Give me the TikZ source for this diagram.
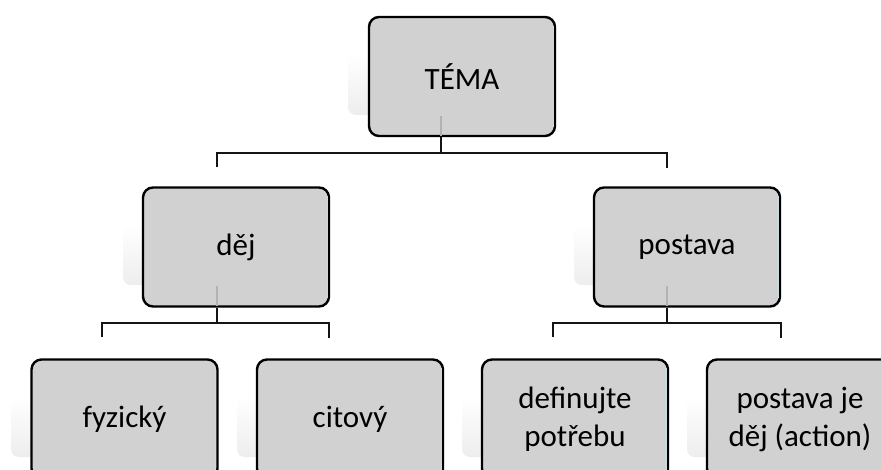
\documentclass[tikz,border=0pt]{standalone}
\usepackage{fontspec}
\setmainfont{Carlito}
\definecolor{boxgray}{RGB}{209,209,209}
\definecolor{glint}{RGB}{200,218,226}
\begin{document}
\begin{tikzpicture}[x=1pt,y=-1pt,
  orgbox/.style={draw=black, line width=2.4pt, rounded corners=10pt, fill=boxgray,
    minimum width=186pt, minimum height=119pt, inner sep=0pt, align=center,
    font=\fontsize{31}{38}\selectfont, text=black},
  conn/.style={line width=2.6pt, draw=black!92},
  hidden/.style={line width=2.4pt, draw=black!30},
  ghost/.style={rounded corners=8pt, top color=white, bottom color=black!7, draw=none}]
\useasboundingbox (0,0) rectangle (881,470);
\clip (0,0) rectangle (881,470);
\fill[white] (0,0) rectangle (881,470);
% faint reflections on the left
\foreach \l/\t/\b in {368/16/137, 143/187/307, 594/187/307, 31/359/479, 257/359/479, 482/359/479, 707/359/479}{
  \path[ghost] (\l-20,\t+38) rectangle (\l+20,\b-22);
}
% boxes
\node[orgbox] (tema) at (462,76.5) {TÉMA};
\node[orgbox] (dej) at (236,247) {děj};
\node[orgbox] (postava) at (687,247) {postava};
\node[orgbox] (fyz) at (124.5,419) {fyzický};
\node[orgbox] (cit) at (350,419) {citový};
\node[orgbox] (def) at (575,419) {definujte\\potřebu};
\node[orgbox] (pje) at (800,419) {postava je\\děj (action)};
% glass highlight on the right edges
\foreach \n in {tema,dej,postava,fyz,cit,def,pje}{
  \draw[glint, line width=1pt] ([xshift=-3pt,yshift=-10pt]\n.north east) -- ([xshift=-3pt,yshift=10pt]\n.south east);
}
% connector anchor points (off-centre, as drawn)
\coordinate (ct) at (441,0);
\coordinate (cd) at (217,0);
\coordinate (cp) at (667,0);
\coordinate (cf) at (102,0);
\coordinate (cc) at (329,0);
\coordinate (ce) at (553,0);
\coordinate (ca) at (781,0);
% hidden parts of the connectors seen through the boxes
\draw[hidden] ([yshift=1.5pt]tema.south -| ct) -- ++(0,-20);
\draw[hidden] ([yshift=1.5pt]dej.south -| cd) -- ++(0,-20);
\draw[hidden] ([yshift=1.5pt]postava.south -| cp) -- ++(0,-20);
% connectors level 1
\draw[conn] (tema.south -| ct) -- (ct |- 0,153);
\draw[conn] (dej.north -| cd) ++(0,-19) -- (cd |- 0,153) -- (cp |- 0,153) -- ++(0,15);
% connectors level 2 left
\draw[conn] (dej.south -| cd) -- (cd |- 0,323);
\draw[conn] (fyz.north -| cf) ++(0,-21) -- (cf |- 0,323) -- (cc |- 0,323) -- ++(0,15);
% connectors level 2 right
\draw[conn] (postava.south -| cp) -- (cp |- 0,323);
\draw[conn] (def.north -| ce) ++(0,-21) -- (ce |- 0,323) -- (ca |- 0,323) -- ++(0,15);
\end{tikzpicture}
\end{document}
